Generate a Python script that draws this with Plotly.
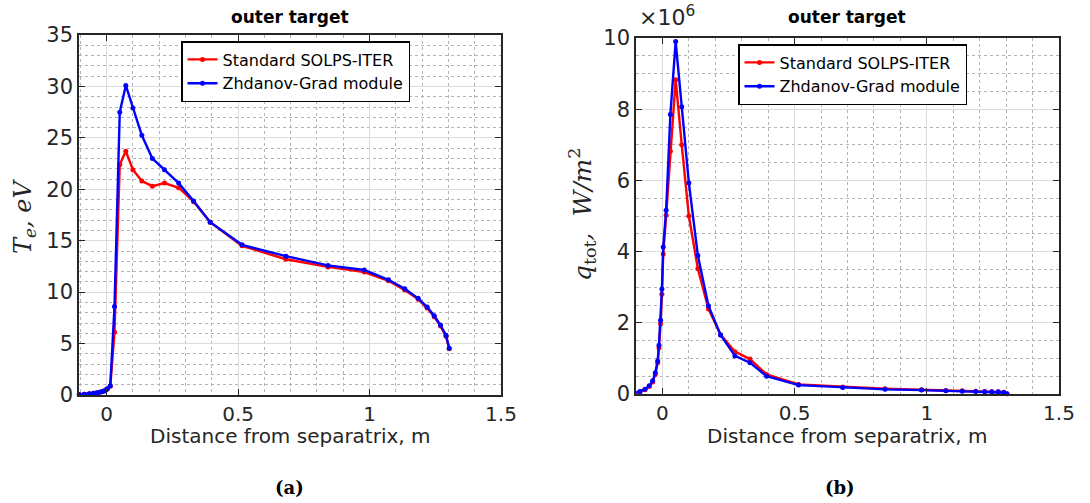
import plotly.graph_objects as go

# ---------------- data ----------------
x_dist = [-0.104, -0.085, -0.066, -0.050, -0.037, -0.027, -0.018, -0.013, -0.007, -0.002,
          0.003, 0.014, 0.030, 0.050, 0.073, 0.100, 0.134, 0.174, 0.220, 0.274,
          0.331, 0.394, 0.515, 0.682, 0.842, 0.980, 1.072, 1.134, 1.185, 1.219,
          1.246, 1.270, 1.291, 1.303]

te_standard = [0.05, 0.08, 0.12, 0.17, 0.22, 0.27, 0.32, 0.37, 0.42, 0.50,
               0.60, 0.85, 6.1, 22.4, 23.7, 21.9, 20.8, 20.3, 20.6, 20.15,
               18.8, 16.8, 14.5, 13.2, 12.45, 11.95, 11.1, 10.2, 9.3, 8.45,
               7.6, 6.7, 5.7, 4.5]

te_zhdanov = [0.05, 0.08, 0.12, 0.17, 0.22, 0.27, 0.32, 0.37, 0.42, 0.50,
              0.60, 0.90, 8.6, 27.5, 30.1, 27.9, 25.25, 23.0, 21.9, 20.6,
              18.85, 16.8, 14.6, 13.5, 12.6, 12.15, 11.2, 10.33, 9.4, 8.55,
              7.7, 6.8, 5.8, 4.55]

# q_tot in units of 1e6 W/m^2
q_standard = [0.03, 0.06, 0.12, 0.21, 0.34, 0.55, 0.88, 1.30, 1.97, 2.80,
              3.93, 5.02, 6.82, 8.83, 7.00, 5.00, 3.52, 2.39, 1.66, 1.19,
              0.98, 0.55, 0.27, 0.20, 0.15, 0.12, 0.10, 0.09, 0.08, 0.07,
              0.065, 0.06, 0.05, 0.01]

q_zhdanov = [0.03, 0.07, 0.13, 0.23, 0.37, 0.60, 0.93, 1.37, 2.07, 2.95,
             4.13, 5.16, 7.85, 9.90, 8.07, 5.93, 3.89, 2.48, 1.66, 1.07,
             0.88, 0.50, 0.25, 0.18, 0.13, 0.11, 0.09, 0.08, 0.07, 0.065,
             0.06, 0.06, 0.04, 0.005]

series_names = ["Standard SOLPS-ITER", "Zhdanov-Grad module"]
x_ticks = [0, 0.5, 1, 1.5]
x_ticklabels = ["0", "0.5", "1", "1.5"]
te_ticks = [0, 5, 10, 15, 20, 25, 30, 35]
q_ticks = [0, 2, 4, 6, 8, 10]

# ---------------- style ----------------
W, H = 1090, 503
RED = "#ff0000"
BLUE = "#0000ff"
AX = "#262626"
SANS = "DejaVu Sans"
SERIF = "DejaVu Serif"

fig = go.Figure()

def add_series(xa, ya, y, color, name, legend):
    fig.add_trace(go.Scatter(
        x=x_dist, y=y, mode="lines+markers", name=name,
        line=dict(color=color, width=2.4),
        marker=dict(color=color, size=5, symbol="circle"),
        xaxis=xa, yaxis=ya, legend=legend, cliponaxis=False))

add_series("x", "y", te_standard, RED, series_names[0], "legend")
add_series("x", "y", te_zhdanov, BLUE, series_names[1], "legend")
add_series("x2", "y2", q_standard, RED, series_names[0], "legend2")
add_series("x2", "y2", q_zhdanov, BLUE, series_names[1], "legend2")

def px_x(p):
    return p / W

def px_y(p):
    return 1 - p / H

def xaxis_style(domain, rng, anchor):
    return dict(
        domain=domain, range=rng, anchor=anchor, automargin=False,
        tickvals=x_ticks, ticktext=x_ticklabels,
        ticks="inside", ticklen=6, tickwidth=1.2, tickcolor=AX,
        showline=True, linecolor=AX, linewidth=1.5, mirror="allticks",
        showgrid=True, gridcolor="#dcdcdc", gridwidth=1, zeroline=False,
        tickfont=dict(family=SANS, size=20, color=AX),
        minor=dict(dtick=0.1, tick0=0, showgrid=True, griddash="dot",
                   gridcolor="#b4b4b4", gridwidth=1, ticks=""),
    )

def yaxis_style(domain, rng, ticks, minor_dtick, anchor):
    return dict(
        domain=domain, range=rng, anchor=anchor, automargin=False,
        tickvals=ticks, ticktext=[str(t) for t in ticks],
        ticks="inside", ticklen=6, tickwidth=1.2, tickcolor=AX,
        showline=True, linecolor=AX, linewidth=1.5, mirror="allticks",
        showgrid=True, gridcolor="#dcdcdc", gridwidth=1, zeroline=False,
        tickfont=dict(family=SANS, size=21, color=AX),
        minor=dict(dtick=minor_dtick, tick0=0, showgrid=True, griddash="dot",
                   gridcolor="#b4b4b4", gridwidth=1, ticks=""),
    )

L_x0, L_x1, L_y0, L_y1 = 79, 501, 35, 395
R_x0, R_x1, R_y0, R_y1 = 636, 1059, 38, 394

legend_common = dict(
    bgcolor="white", bordercolor="#000000", borderwidth=1.5,
    font=dict(family=SANS, size=16, color="#000000"),
    xanchor="left", yanchor="top", tracegroupgap=0, itemwidth=30,
)

fig.update_layout(
    width=W, height=H,
    margin=dict(l=0, r=0, t=0, b=0, pad=0, autoexpand=False),
    paper_bgcolor="white", plot_bgcolor="white",
    xaxis=xaxis_style([px_x(L_x0), px_x(L_x1)], [-0.105, 1.5], "y"),
    yaxis=yaxis_style([px_y(L_y1), px_y(L_y0)], [0, 35], te_ticks, 1, "x"),
    xaxis2=xaxis_style([px_x(R_x0), px_x(R_x1)], [-0.1, 1.5], "y2"),
    yaxis2=yaxis_style([px_y(R_y1), px_y(R_y0)], [0, 10], q_ticks, 0.5, "x2"),
    legend=dict(x=px_x(181), y=px_y(41), **legend_common),
    legend2=dict(x=px_x(738), y=px_y(44), **legend_common),
    showlegend=True,
)

ann = []
# titles
for cx in [(L_x0 + L_x1) / 2, (R_x0 + R_x1) / 2]:
    ann.append(dict(text="<b>outer target</b>", x=px_x(cx), y=px_y(17),
                    xref="paper", yref="paper", showarrow=False,
                    font=dict(family=SANS, size=17, color="#000000"),
                    xanchor="center", yanchor="middle"))
# x axis titles
for cx in [(L_x0 + L_x1) / 2, (R_x0 + R_x1) / 2]:
    ann.append(dict(text="Distance from separatrix, m", x=px_x(cx), y=px_y(436),
                    xref="paper", yref="paper", showarrow=False,
                    font=dict(family=SANS, size=20, color=AX),
                    xanchor="center", yanchor="middle"))
# y axis titles
ann.append(dict(text="<i>T</i><sub><i>e</i></sub><i>, eV</i>", x=px_x(24), y=px_y(217),
                xref="paper", yref="paper", showarrow=False, textangle=-90,
                font=dict(family=SERIF, size=24, color=AX),
                xanchor="center", yanchor="middle"))
ann.append(dict(text="<i>q</i><sub>tot</sub><i>,  W/m</i><sup>2</sup>", x=px_x(582), y=px_y(215),
                xref="paper", yref="paper", showarrow=False, textangle=-90,
                font=dict(family=SERIF, size=25, color=AX),
                xanchor="center", yanchor="middle"))
# exponent
ann.append(dict(text="×10<sup>6</sup>", x=px_x(637), y=px_y(32),
                xref="paper", yref="paper", showarrow=False,
                font=dict(family=SANS, size=22, color=AX),
                xanchor="left", yanchor="bottom"))
# captions
ann.append(dict(text="<b>(a)</b>", x=px_x(289), y=px_y(487),
                xref="paper", yref="paper", showarrow=False,
                font=dict(family=SERIF, size=18, color="#000000"),
                xanchor="center", yanchor="middle"))
ann.append(dict(text="<b>(b)</b>", x=px_x(840), y=px_y(487),
                xref="paper", yref="paper", showarrow=False,
                font=dict(family=SERIF, size=18, color="#000000"),
                xanchor="center", yanchor="middle"))
fig.update_layout(annotations=ann)

fig.write_html("out.html")
